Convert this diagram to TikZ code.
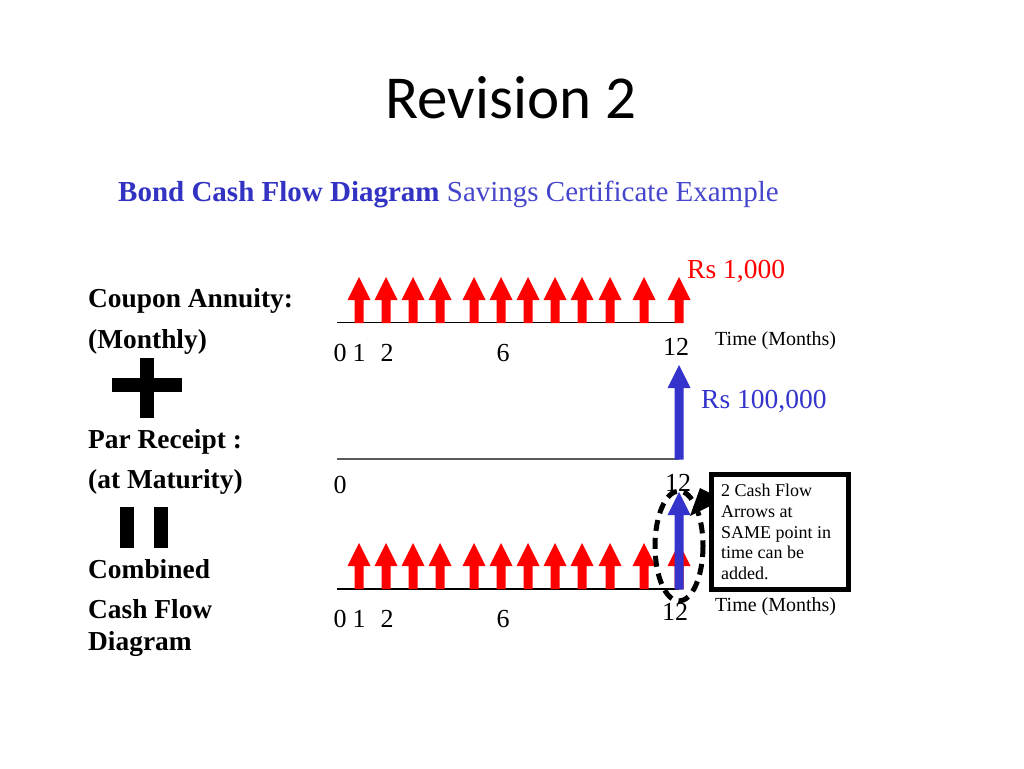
\documentclass[tikz,border=0pt]{standalone}
\usepackage{fontspec}
\setmainfont{Liberation Serif}
\newfontfamily\calfont{Carlito}
\definecolor{cfred}{RGB}{255,0,0}
\definecolor{cfblue}{RGB}{52,52,205}
\definecolor{cftitle}{RGB}{50,50,195}
\definecolor{cfsub}{RGB}{70,70,205}
\definecolor{cfgray}{RGB}{90,90,90}
\newcommand{\cfarrow}[4]{%
  \fill[#4] (#1-4.5,#2) -- (#1-4.5,#3+23) -- (#1-11.5,#3+23) -- (#1,#3)
    -- (#1+11.5,#3+23) -- (#1+4.5,#3+23) -- (#1+4.5,#2) -- cycle;}
\tikzset{
  lbl/.style={anchor=base west, inner sep=0pt, font=\bfseries\fontsize{27.4}{32}\selectfont},
  tick/.style={anchor=base, inner sep=0pt, font=\fontsize{26}{30}\selectfont},
  timelbl/.style={anchor=base west, inner sep=0pt, font=\fontsize{20}{24}\selectfont},
  amount/.style={anchor=base west, inner sep=0pt, font=\fontsize{27.5}{30}\selectfont},
  boxtxt/.style={anchor=base west, inner sep=0pt, font=\fontsize{18}{21}\selectfont},
  axis/.style={line width=1.5pt},
}
\begin{document}
\begin{tikzpicture}[x=1pt,y=-1pt]
\useasboundingbox (0,0) rectangle (1024,768);
\fill[white] (0,0) rectangle (1024,768);

% titles
\node[anchor=base, inner sep=0pt, font=\calfont\fontsize{61}{70}\selectfont] (title) at (511,118) {Revision 2};
\node[anchor=base west, inner sep=0pt, text=cfsub, font=\fontsize{29}{34}\selectfont] (subtitle) at (118,201) {\textcolor{cftitle}{\textbf{Bond Cash Flow Diagram}} Savings Certificate Example};

% left labels
\node[lbl] (l1) at (88,307) {Coupon Annuity:};
\node[lbl] (l2) at (88,348) {(Monthly)};
\node[lbl] (l3) at (88,448) {Par Receipt :};
\node[lbl] (l4) at (88,488) {(at Maturity)};
\node[lbl] (l5) at (88,578) {Combined};
\node[lbl] (l6) at (88,618) {Cash Flow};
\node[lbl] (l7) at (88,650) {Diagram};

% plus and equals
\fill (112,378) rectangle (182,392);
\fill (140,358) rectangle (154,418);
\fill (120,507) rectangle (134,548);
\fill (154,507) rectangle (168,548);

% ---------- top: coupon annuity ----------
\coordinate (a1s) at (337,322.5);
\coordinate (a1e) at (679,322.5);
\draw[axis] (a1s) -- (a1e);
\foreach \x in {359,386,413,440,474,501,528,555,582,610,644,679}
  {\cfarrow{\x}{323}{277}{cfred}}
\node[amount, text=cfred] (rs1) at (687,278) {Rs 1,000};
\node[tick] (t0a) at (340,361) {0};
\node[tick] (t1a) at (359,361) {1};
\node[tick] (t2a) at (387,361) {2};
\node[tick] (t6a) at (503,361) {6};
\node[tick] (t12a) at (676,355) {12};
\node[timelbl] (tma) at (715,345) {Time (Months)};

% ---------- middle: par receipt ----------
\coordinate (a2s) at (337,459);
\coordinate (a2e) at (679,459);
\draw[axis, cfgray] (a2s) -- (a2e);
\cfarrow{679}{459.5}{365}{cfblue}
\node[amount, text=cfblue] (rs2) at (701,408) {Rs 100,000};
\node[tick] (t0b) at (340,493) {0};
\node[tick] (t12b) at (678,491) {12};

% ---------- bottom: combined ----------
\coordinate (a3s) at (337,589);
\coordinate (a3e) at (679,589);
\draw[axis] (a3s) -- (a3e);
\foreach \x in {359,386,413,440,474,501,528,555,582,610,644,679}
  {\cfarrow{\x}{589}{543}{cfred}}
\cfarrow{679}{589.5}{492}{cfblue}
\node[tick] (t0c) at (340,627) {0};
\node[tick] (t1c) at (359,627) {1};
\node[tick] (t2c) at (387,627) {2};
\node[tick] (t6c) at (503,627) {6};
\node[tick] (t12c) at (675,620) {12};
\node[timelbl] (tmc) at (715,611) {Time (Months)};

% dashed ellipse
\draw[line width=5pt, dash pattern=on 11pt off 7pt] (679,546) ellipse [x radius=24, y radius=55];

% callout box
\draw[line width=5pt] (711.5,474) rectangle (848,589);
\fill (700,488) -- (712,494) -- (712,505) -- (690,516) -- cycle;
\node[boxtxt] (b1) at (721,496) {2 Cash Flow};
\node[boxtxt] (b2) at (721,517) {Arrows at};
\node[boxtxt] (b3) at (721,538) {SAME point in};
\node[boxtxt] (b4) at (721,558) {time can be};
\node[boxtxt] (b5) at (721,579) {added.};
\end{tikzpicture}
\end{document}
